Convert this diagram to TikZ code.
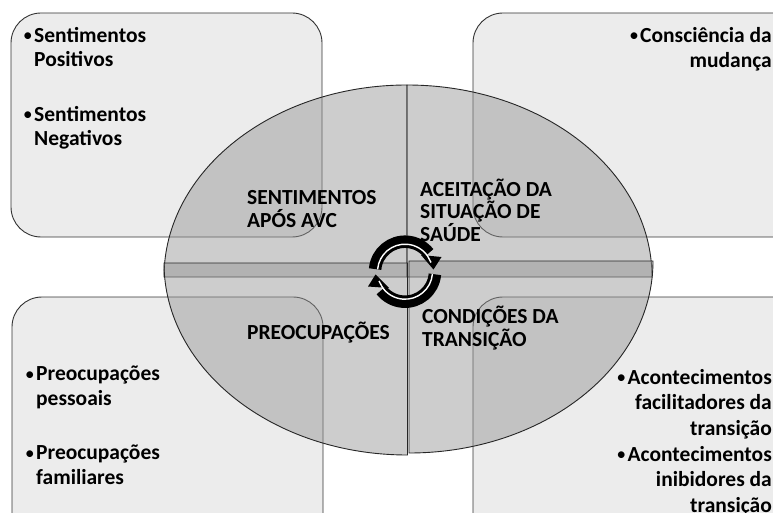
\documentclass[tikz,border=0pt]{standalone}
\usepackage{fontspec}
\setmainfont{Carlito}
\definecolor{boxfill}{gray}{0.925}
\definecolor{quadfill}{gray}{0.59}
\definecolor{edge}{gray}{0.2}
\tikzset{
  boxshape/.style={fill=boxfill,draw=edge,line width=0.9pt,rounded corners=30pt},
  quad/.style={fill=quadfill,fill opacity=0.48,draw=black!85,line width=0.9pt},
  toplabel/.style={inner sep=0pt,anchor=west,font=\bfseries\fontsize{21.5}{22.5}\selectfont,align=left},
  leftitem/.style={inner sep=0pt,anchor=north west,font=\bfseries\fontsize{21.5}{24.5}\selectfont,align=left},
  rightitem/.style={inner sep=0pt,anchor=north east,font=\bfseries\fontsize{21.5}{25.5}\selectfont,align=right},
  cycouter/.style={draw=black,line width=12.5pt},
  cycinner/.style={draw=white,line width=1.4pt}
}
\newcommand{\bul}{\raisebox{0.5pt}{\fontsize{19}{19}\selectfont\mdseries •}\kern1.5pt}
\begin{document}
\begin{tikzpicture}[x=1pt,y=-1pt]
\useasboundingbox (0,0) rectangle (773,513);
\clip (0,0) rectangle (773,513);
% boxes
\draw[boxshape] (11,13) rectangle (322,237);
\draw[boxshape] (473,13) rectangle (820,237);
\draw[boxshape] (12,297) rectangle (323,560);
\draw[boxshape] (473,297) rectangle (820,560);
% quadrants
\draw[quad] (407,85) arc[start angle=-90,end angle=-180,x radius=243,y radius=192] -- (407,277) -- cycle;
\draw[quad] (407,85) arc[start angle=-90,end angle=0,x radius=245,y radius=192] -- (407,277) -- cycle;
\draw[quad] (407.5,455) arc[start angle=90,end angle=180,x radius=243.5,y radius=192] -- (407.5,263) -- cycle;
\draw[quad] (409,453) arc[start angle=90,end angle=0,x radius=244,y radius=192] -- (653,261) -- (409,261) -- cycle;
% circular arrows
\coordinate (cyc) at (405,271.7);
\draw[cycouter] ([shift={(185:30)}]cyc) arc[start angle=185,end angle=322,radius=30];
\fill (441.5,257) -- (433.5,269.5) -- (421,255) -- cycle;
\draw[cycinner] ([shift={(185:27.5)}]cyc) arc[start angle=185,end angle=325,radius=27.5] -- (431,262.5);
\draw[cycouter] ([shift={(5:30)}]cyc) arc[start angle=5,end angle=142,radius=30];
\fill (368,286.5) -- (375.5,274.5) -- (389,288) -- cycle;
\draw[cycinner] ([shift={(5:27.5)}]cyc) arc[start angle=5,end angle=145,radius=27.5] -- (379,281);
% centre labels
\node[toplabel] (sentimentos) at (247,209) {SENTIMENTOS\\APÓS AVC};
\node[toplabel] (aceitacao) at (420,210) {ACEITAÇÃO DA\\SITUAÇÃO DE\\SAÚDE};
\node[toplabel] (preocupacoes) at (247,333) {PREOCUPAÇÕES};
\node[toplabel] (condicoes) at (422,328) {CONDIÇÕES DA\\TRANSIÇÃO};
% box items
\node[leftitem] (pos) at (34,27) {\llap{\bul}Sentimentos\\Positivos};
\node[leftitem] (neg) at (34,106) {\llap{\bul}Sentimentos\\Negativos};
\node[leftitem] (pes) at (36,366) {\llap{\bul}Preocupações\\pessoais};
\node[leftitem] (fam) at (36,445) {\llap{\bul}Preocupações\\familiares};
\node[rightitem] (cons) at (772,27) {\bul Consciência da\\mudança};
\node[rightitem] (fac) at (772,369) {\bul Acontecimentos\\facilitadores da\\transição};
\node[rightitem] (ini) at (772,446) {\bul Acontecimentos\\inibidores da\\transição};
\end{tikzpicture}
\end{document}
